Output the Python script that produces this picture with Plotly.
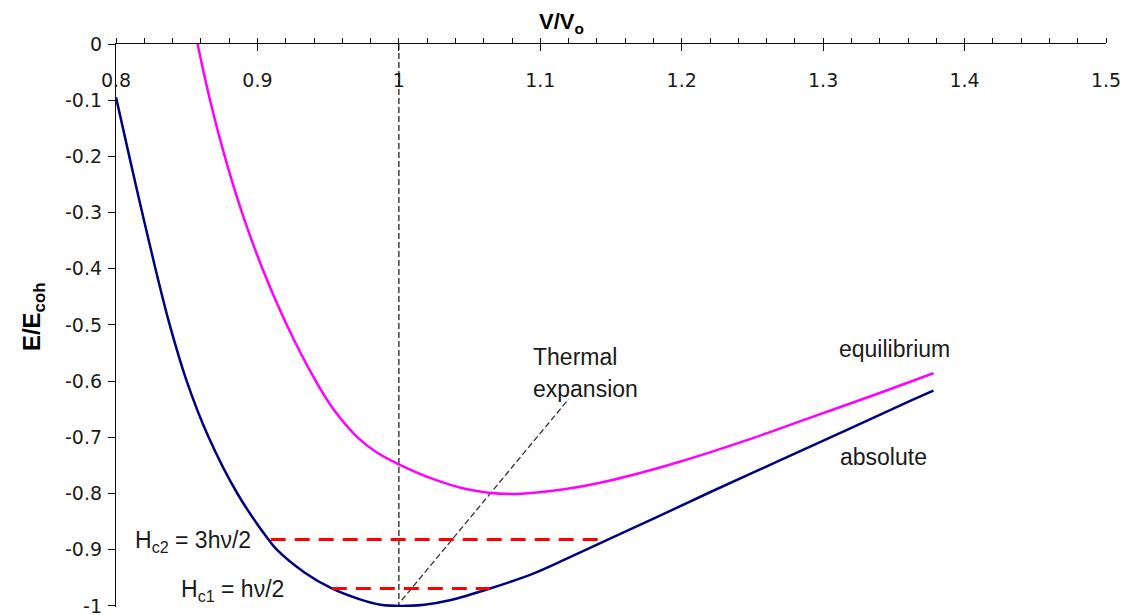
import plotly.graph_objects as go

# ---------------- data ----------------
abs_x = [0.800, 0.8094, 0.8185, 0.8279, 0.8380, 0.8500, 0.8655, 0.8858, 0.9078, 0.9137,
         0.933, 0.9526, 0.972, 0.987, 1.002, 1.018, 1.036, 1.0645, 1.0945, 1.1187,
         1.147, 1.1816, 1.2215, 1.2686, 1.3157, 1.3627, 1.378]
abs_y = [-0.095, -0.20, -0.30, -0.40, -0.50, -0.60, -0.70, -0.80, -0.882, -0.90,
         -0.94, -0.969, -0.988, -0.998, -1.0, -0.998, -0.99, -0.969, -0.943, -0.916,
         -0.883, -0.843, -0.796, -0.742, -0.688, -0.634, -0.617]

eq_x = [0.8577, 0.8665, 0.8769, 0.8891, 0.9036, 0.9208, 0.9413, 0.9538, 0.9708, 0.985,
        1.000, 1.024, 1.0475, 1.078, 1.118, 1.151, 1.198, 1.245, 1.292, 1.339, 1.378]
eq_y = [0.0, -0.10, -0.20, -0.30, -0.40, -0.50, -0.60, -0.65, -0.70, -0.728,
        -0.748, -0.774, -0.792, -0.801, -0.792, -0.776, -0.744, -0.706, -0.664, -0.622, -0.586]

v0_x = [1.0, 1.0]
v0_y = [0.0, -1.0]

thermal_x = [1.002, 1.120]
thermal_y = [-0.99, -0.632]

hc2_x = [0.9094, 1.147]
hc2_y = [-0.882, -0.882]
hc1_x = [0.9526, 1.0645]
hc1_y = [-0.969, -0.969]

x_tickvals = [0.8, 0.9, 1.0, 1.1, 1.2, 1.3, 1.4, 1.5]
x_ticktext = ["0.8", "0.9", "1", "1.1", "1.2", "1.3", "1.4", "1.5"]
y_tickvals = [0, -0.1, -0.2, -0.3, -0.4, -0.5, -0.6, -0.7, -0.8, -0.9, -1.0]
y_ticktext = ["0", "-0.1", "-0.2", "-0.3", "-0.4", "-0.5", "-0.6", "-0.7", "-0.8", "-0.9", "-1"]

TICKFONT = "DejaVu Sans"
TEXTFONT = "Liberation Sans, Arial, sans-serif"
TXT = "#1a1a1a"
AX = "#111111"

fig = go.Figure()

fig.add_trace(go.Scatter(x=v0_x, y=v0_y, mode="lines",
                         line=dict(color="#222222", width=1.3, dash="6px,3px"),
                         hoverinfo="skip", showlegend=False))
fig.add_trace(go.Scatter(x=thermal_x, y=thermal_y, mode="lines",
                         line=dict(color="#333333", width=1.3, dash="6px,3px"),
                         hoverinfo="skip", showlegend=False))
fig.add_trace(go.Scatter(x=eq_x, y=eq_y, mode="lines", name="equilibrium",
                         line=dict(color="#FF00FF", width=2.5, shape="spline", smoothing=1.0),
                         showlegend=False))
fig.add_trace(go.Scatter(x=abs_x, y=abs_y, mode="lines", name="absolute",
                         line=dict(color="#000080", width=2.5, shape="spline", smoothing=1.0),
                         showlegend=False))
fig.add_trace(go.Scatter(x=hc2_x, y=hc2_y, mode="lines",
                         line=dict(color="#FF0000", width=3, dash="15px,9px"),
                         showlegend=False))
fig.add_trace(go.Scatter(x=hc1_x, y=hc1_y, mode="lines",
                         line=dict(color="#FF0000", width=3, dash="15px,9px"),
                         showlegend=False))
# invisible trace to activate the overlay axis (upper part of the major ticks)
fig.add_trace(go.Scatter(x=[x_tickvals[0], x_tickvals[-1]], y=[0, 0], xaxis="x2",
                         mode="lines", line=dict(width=0), hoverinfo="skip", showlegend=False))

fig.update_layout(
    width=1126, height=611,
    margin=dict(l=108, r=28, t=36, b=12),
    paper_bgcolor="white", plot_bgcolor="white",
    font=dict(family=TICKFONT, size=19, color=TXT),
    xaxis=dict(
        range=[0.8, 1.5], side="top", anchor="y", automargin=False,
        showline=True, linecolor=AX, linewidth=1.3,
        showgrid=False, zeroline=False,
        tickmode="array", tickvals=x_tickvals, ticktext=x_ticktext,
        ticks="inside", ticklen=7, tickwidth=1.3, tickcolor=AX,
        ticklabelposition="inside", ticklabeloverflow="allow", ticklabelstandoff=23,
        tickfont=dict(family=TICKFONT, size=19, color=TXT),
        minor=dict(ticks="outside", ticklen=5, tickwidth=1.1, tickcolor=AX,
                   dtick=0.02, tick0=0.8, showgrid=False),
    ),
    xaxis2=dict(
        range=[0.8, 1.5], side="top", overlaying="x", anchor="y", automargin=False,
        showline=False, showgrid=False, zeroline=False,
        tickmode="array", tickvals=x_tickvals,
        ticks="outside", ticklen=5, tickwidth=1.3, tickcolor=AX,
        showticklabels=False,
    ),
    yaxis=dict(
        range=[-1.002, 0], automargin=False,
        showline=True, linecolor=AX, linewidth=1.3,
        showgrid=False, zeroline=False,
        tickmode="array", tickvals=y_tickvals, ticktext=y_ticktext,
        ticks="outside", ticklen=7, tickwidth=1.3, tickcolor=AX,
        ticklabelstandoff=2, ticklabeloverflow="allow",
        tickfont=dict(family=TICKFONT, size=19, color=TXT),
    ),
)

ann = dict(showarrow=False, font=dict(family=TEXTFONT, size=23, color=TXT))
fig.add_annotation(x=1.1147, y=1.037, xref="x", yref="paper", xanchor="center", yanchor="middle",
                   text="<b>V/V<sub>o</sub></b>", showarrow=False,
                   font=dict(family=TEXTFONT, size=22, color="#000000"))
fig.add_annotation(x=-0.0838, y=0.515, xref="paper", yref="paper", xanchor="center", yanchor="middle",
                   text="<b>E/E<sub>coh</sub></b>", textangle=-90, showarrow=False,
                   font=dict(family=TEXTFONT, size=24, color="#000000"))
fig.add_annotation(x=1.0934, y=-0.557, xanchor="left", yanchor="middle", text="Thermal", **ann)
fig.add_annotation(x=1.0934, y=-0.614, xanchor="left", yanchor="middle", text="expansion", **ann)
fig.add_annotation(x=1.3095, y=-0.543, xanchor="left", yanchor="middle", text="equilibrium", **ann)
fig.add_annotation(x=1.3102, y=-0.735, xanchor="left", yanchor="middle", text="absolute", **ann)
fig.add_annotation(x=0.8967, y=-0.886, xanchor="right", yanchor="middle",
                   text="H<sub>c2</sub> = 3hν/2", **ann)
fig.add_annotation(x=0.9205, y=-0.972, xanchor="right", yanchor="middle",
                   text="H<sub>c1</sub> = hν/2", **ann)

fig.write_html("out.html")
